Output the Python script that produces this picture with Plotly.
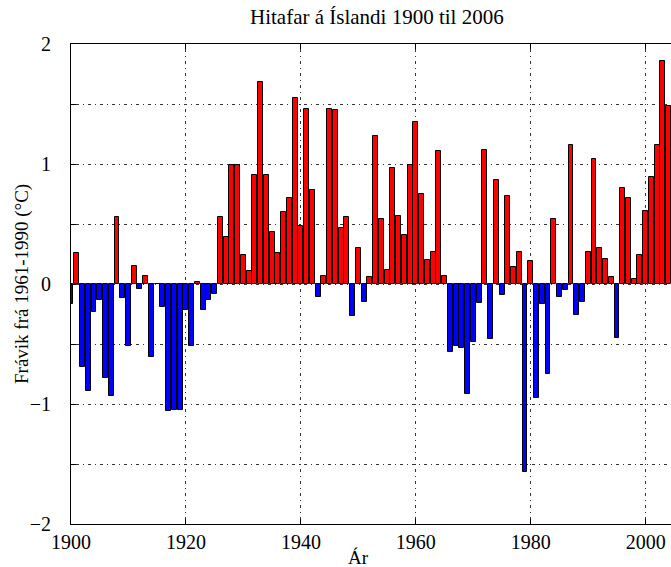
import plotly.graph_objects as go

years = list(range(1900, 2005))
anomaly = [
    -0.17, 0.26, -0.69, -0.89, -0.23, -0.13, -0.78, -0.93, 0.56, -0.12,   # 1900-1909
    -0.52, 0.15, -0.04, 0.07, -0.61, 0.0, -0.19, -1.06, -1.05, -1.05,     # 1910-1919
    -0.22, -0.52, 0.02, -0.22, -0.13, -0.08, 0.56, 0.39, 0.99, 0.99,      # 1920-1929
    0.24, 0.11, 0.91, 1.68, 0.91, 0.43, 0.26, 0.60, 0.72, 1.55,           # 1930-1939
    0.48, 1.46, 0.78, -0.11, 0.07, 1.46, 1.45, 0.47, 0.56, -0.27,         # 1940-1949
    0.30, -0.15, 0.06, 1.23, 0.54, 0.12, 0.97, 0.57, 0.41, 0.99,          # 1950-1959
    1.35, 0.75, 0.20, 0.27, 1.11, 0.07, -0.57, -0.52, -0.53, -0.92,       # 1960-1969
    -0.48, -0.16, 1.12, -0.46, 0.87, -0.09, 0.73, 0.14, 0.27, -1.57,      # 1970-1979
    0.19, -0.95, -0.17, -0.75, 0.54, -0.11, -0.05, 1.16, -0.26, -0.15,    # 1980-1989
    0.27, 1.04, 0.30, 0.21, 0.06, -0.45, 0.80, 0.72, 0.04, 0.24,          # 1990-1999
    0.61, 0.89, 1.16, 1.86, 1.48,                                         # 2000-2004
]
x_ticks = [1900, 1920, 1940, 1960, 1980, 2000]
y_ticks = [-2, -1.5, -1, -0.5, 0, 0.5, 1, 1.5, 2]
y_ticktext = ["\u22122", "", "\u22121", "", "0", "", "1", "", "2"]

title_text = "Hitafar á Íslandi 1900 til 2006"
x_label = "Ár"
y_label = "Frávik frá 1961-1990 (°C)"

colors = ["#ff0000" if v >= 0 else "#0000ff" for v in anomaly]

FONT = "Liberation Serif, Times New Roman, serif"

fig = go.Figure()
fig.add_trace(go.Bar(
    x=years, y=anomaly, width=0.86,
    marker=dict(color=colors, line=dict(color="black", width=1)),
    showlegend=False,
))

fig.update_layout(
    width=671, height=567,
    margin=dict(l=71, r=0, t=44, b=43),
    plot_bgcolor="white", paper_bgcolor="white",
    font=dict(family=FONT, size=20, color="black"),
    bargap=0,
    annotations=[
        dict(text=title_text, xref="paper", yref="paper", x=0.51, y=1.0,
             yshift=13, xanchor="center", yanchor="bottom", showarrow=False,
             font=dict(family=FONT, size=21, color="black")),
        dict(text=x_label, xref="x", yref="paper", x=1950, y=0,
             yshift=-21, xanchor="center", yanchor="top", showarrow=False,
             font=dict(family=FONT, size=19, color="black")),
        dict(text=y_label, xref="paper", yref="paper", x=0, y=0.5,
             xshift=-49, xanchor="center", yanchor="middle", showarrow=False,
             textangle=-90, font=dict(family=FONT, size=19, color="black")),
    ],
)

fig.update_xaxes(
    range=[1900, 2004.4],
    tickvals=x_ticks, ticktext=[str(t) for t in x_ticks],
    ticks="inside", ticklen=5, tickcolor="black",
    showline=True, linecolor="black", linewidth=1, mirror="ticks",
    showgrid=True, gridcolor="#333333", gridwidth=1, griddash="1px,4px,3px,4px",
    zeroline=False,
    tickfont=dict(family=FONT, size=20),
)
fig.update_yaxes(
    range=[-2, 2],
    tickvals=y_ticks, ticktext=y_ticktext,
    ticks="inside", ticklen=5, tickcolor="black",
    showline=True, linecolor="black", linewidth=1, mirror=False,
    showgrid=True, gridcolor="#333333", gridwidth=1, griddash="1px,4px,3px,4px",
    zeroline=False,
    ticklabelstandoff=15,
    tickfont=dict(family=FONT, size=20),
)

fig.write_html("out.html")
